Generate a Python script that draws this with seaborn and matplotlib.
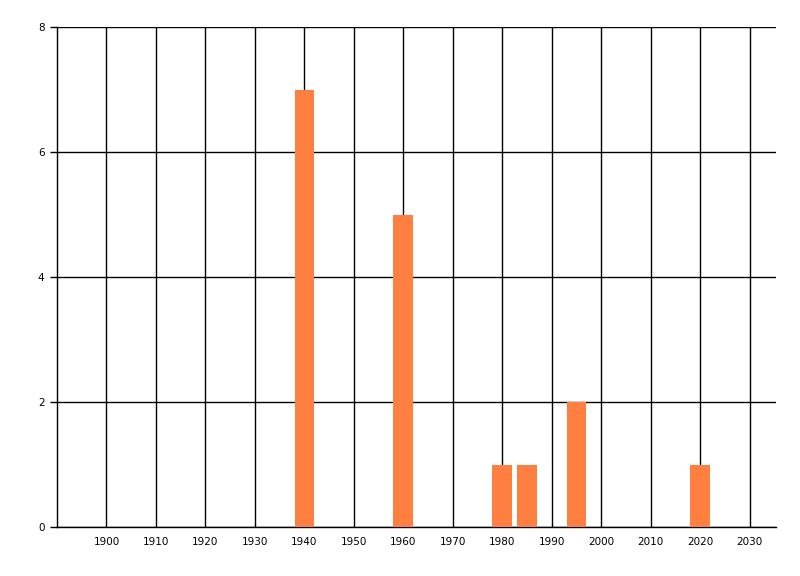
import matplotlib
matplotlib.use("Agg")
import matplotlib.pyplot as plt
import seaborn as sns
import pandas as pd

# данные
years = [1940, 1960, 1980, 1985, 1995, 2020]
counts = [7, 5, 1, 1, 2, 1]
x_ticks = list(range(1900, 2031, 10))
y_ticks = [0, 2, 4, 6, 8]

df = pd.DataFrame({"year": years, "count": counts})

sns.set_style("white")
plt.rcParams['font.family'] = 'DejaVu Sans'

fig = plt.figure(figsize=(8, 5.76), dpi=100)
ax = fig.add_axes([57 / 800, 1 - 527 / 576, (776 - 57) / 800, (527 - 27) / 576])

sns.barplot(data=df, x="year", y="count", native_scale=True, width=0.8,
            color="#FF7F40", saturation=1, ax=ax, zorder=3, linewidth=0)

ax.set_xlim(1890, 2035.3)
ax.set_ylim(0, 8)
ax.set_xticks(x_ticks)
ax.set_xticklabels([str(t) for t in x_ticks])
ax.set_yticks(y_ticks)
ax.set_xlabel("")
ax.set_ylabel("")

ax.grid(True, color="black", linewidth=1)
ax.set_axisbelow(True)
for s in ["top", "right"]:
    ax.spines[s].set_visible(False)
for s in ["left", "bottom"]:
    ax.spines[s].set_color("black")
    ax.spines[s].set_linewidth(1)

ax.tick_params(axis="x", length=0, pad=7, labelsize=7.5, colors="black")
ax.tick_params(axis="y", length=5, width=1, pad=4, labelsize=7.5, colors="black", left=True)

fig.savefig("out.png", dpi=100, facecolor="white")
